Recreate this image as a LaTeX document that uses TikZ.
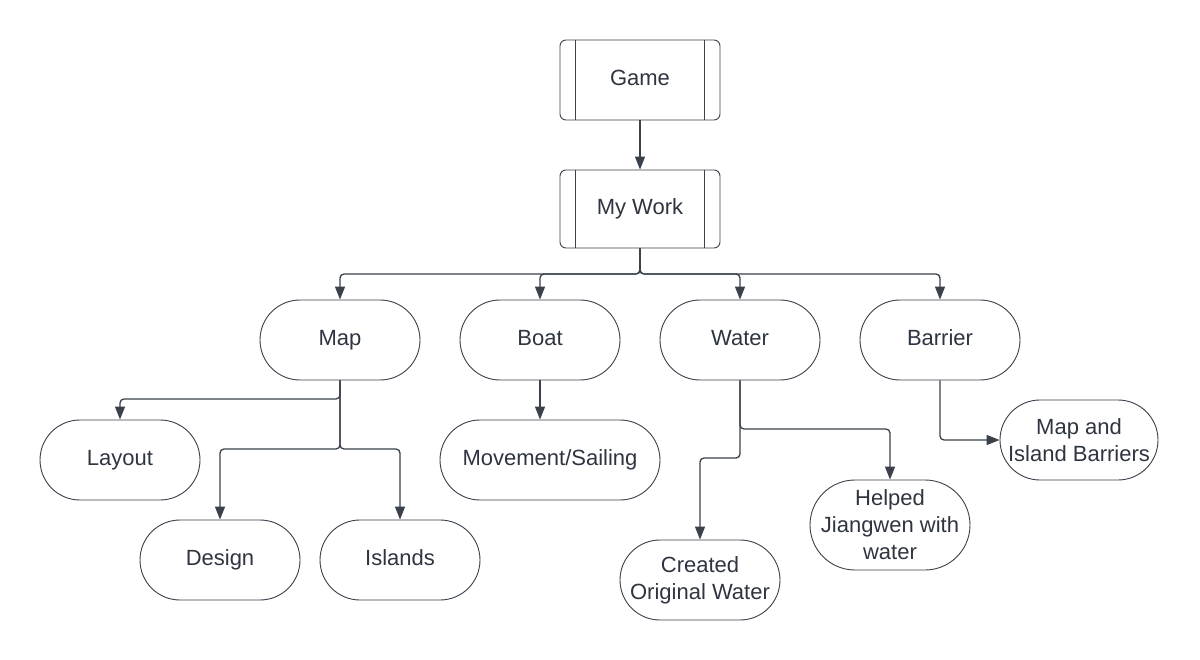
\documentclass[tikz,border=0pt]{standalone}
\usepackage{fontspec}
\setmainfont{Liberation Sans}
\usetikzlibrary{arrows.meta}
\definecolor{linec}{HTML}{3A414A}
\definecolor{textc}{HTML}{2F3540}
\tikzset{
  basebox/.style={draw=linec, line width=0.9pt, minimum width=160pt, minimum height=80pt, inner sep=0pt, text=textc, align=center, font=\fontsize{22}{27}\selectfont, text height=16pt, text depth=5pt},
  procbox/.style={basebox, rounded corners=6pt},
  pill/.style={basebox, rounded corners=40pt},
  multi/.style={text height={}, text depth={}},
  conn/.style={draw=linec, line width=1.3pt, rounded corners=4pt, -{Triangle[length=13pt,width=10pt]}},
}
\begin{document}
\begin{tikzpicture}[x=1pt,y=-1pt]
\useasboundingbox[fill=white] (0,0) rectangle (1200,660);
% nodes
\node[procbox] (game) at (640,80) {Game};
\node[procbox, minimum height=78pt] (mywork) at (640,209) {My Work};
\foreach \n in {game,mywork}{
  \draw[linec, line width=0.9pt] ([xshift=16pt]\n.north west) -- ([xshift=16pt]\n.south west);
  \draw[linec, line width=0.9pt] ([xshift=-16pt]\n.north east) -- ([xshift=-16pt]\n.south east);
}
\node[pill] (map) at (340,340) {Map};
\node[pill] (boat) at (540,340) {Boat};
\node[pill] (water) at (740,340) {Water};
\node[pill] (barrier) at (940,340) {Barrier};
\node[pill] (layout) at (120,460) {Layout};
\node[pill] (design) at (220,560) {Design};
\node[pill] (islands) at (400,560) {Islands};
\node[pill, minimum width=220pt] (movement) at (550,460) {Movement/Sailing};
\node[pill, multi] (created) at (700,580) {Created\\Original Water};
\node[pill, multi, minimum height=90pt, rounded corners=45pt] (helped) at (890,525) {Helped\\Jiangwen with\\water};
\node[pill, multi, minimum width=158pt] (mapisland) at (1079,440) {Map and\\Island Barriers};
% junction points
\coordinate (b0) at (640,274);
\coordinate (m1) at (340,399);
\coordinate (m2) at (340,449);
\coordinate (w1) at (740,429);
\coordinate (w2) at (740,458);
\coordinate (r1) at (940,440);
% connectors
\draw[conn] (game.south) -- (mywork.north);
\foreach \n in {map,boat,water,barrier}{
  \draw[conn] (mywork.south) -- (b0) -| (\n.north);
}
\draw[conn] (map.south) -- (m1) -| (layout.north);
\draw[conn] (map.south) -- (m2) -| (design.north);
\draw[conn] (map.south) -- (m2) -| (islands.north);
\draw[conn] (boat.south) -- (boat.south |- movement.north);
\draw[conn] (water.south) -- (w1) -| (helped.north);
\draw[conn] (water.south) -- (w2) -| (created.north);
\draw[conn] (barrier.south) -- (r1) -- (mapisland.west);
\end{tikzpicture}
\end{document}
